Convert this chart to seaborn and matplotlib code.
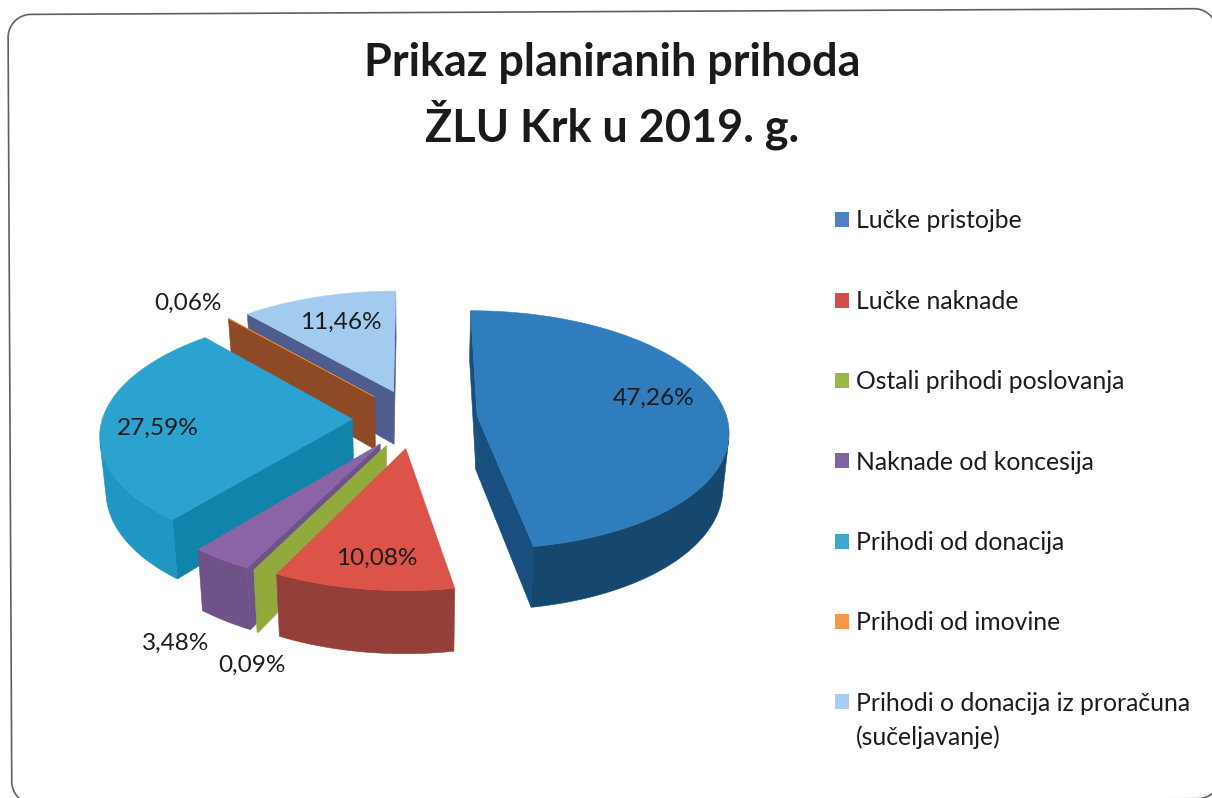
import numpy as np
import matplotlib
matplotlib.use("Agg")
import matplotlib.pyplot as plt
import seaborn as sns
from matplotlib.patches import Patch, Polygon

categories = ["Lučke pristojbe", "Lučke naknade", "Ostali prihodi poslovanja",
              "Naknade od koncesija", "Prihodi od donacija", "Prihodi od imovine",
              "Prihodi o donacija iz proračuna\n(sučeljavanje)"]
shares = [47.26, 10.08, 0.09, 3.48, 27.59, 0.06, 11.46]
title_lines = ["Prikaz planiranih prihoda", "ŽLU Krk u 2019. g."]

legend_colors = ["#4f81c4", "#d2504a", "#9bb84a", "#8064a2", "#3fa7c8", "#f79646", "#a8cdf5"]
top_colors = ["#2f7dbd", "#dc5449", "#95ae3f", "#8a64a6", "#2ba2cf", "#e58a2e", "#a3cbf0"]
side_colors = ["#174f7e", "#953c38", "#92aa3c", "#6f5288", "#1283ab", "#8e4a26", "#4e5d8e"]
wall_colors = ["#16486f", "#953f3b", "#92aa3c", "#6f5288", "#2096c2", "#8e4a26", "#4e5d8e"]

label_xy = [(654, 398), (377, 558), (252, 665), (176, 643), (158, 428), (188, 303), (341, 322)]

# drawing order: far slices first
order = [6, 5, 4, 0, 3, 2, 1]

X0, Y0 = 415, 418.5    # pie centre in pixels
A, B = 250, 118        # horizontal / vertical radius
K = 0.116              # perspective strength
DEPTH = 54             # extrusion
EXPLODE = 0.25
TAPER = 0.02

FONT = "Lato"
TEXT = "#1c1c1c"

sns.set_theme(style="white")
plt.rcParams["font.family"] = [FONT, "DejaVu Sans"]

fig = plt.figure(figsize=(12.12, 7.98), dpi=100, facecolor="white")
ax = fig.add_axes([0, 0, 1, 1])

# the pie gives the angle and explosion offset of every slice
wedges, _ = ax.pie(shares, startangle=90, counterclock=False,
                   explode=[EXPLODE] * len(shares), radius=1)
geom = [(w.center, w.theta1, w.theta2) for w in wedges]
for w in wedges:
    w.remove()

ax.set_aspect("auto")
ax.set_xlim(0, 1212)
ax.set_ylim(798, 0)
ax.axis("off")


def project(u, v, z=0.0):
    w = 1 + K * v
    sx = (A * u / w) * (1 - TAPER * z)
    sy = -B * v / w + DEPTH * z / w
    return X0 + sx, Y0 + sy


def area(xs, ys):
    return 0.5 * np.sum(xs * np.roll(ys, -1) - np.roll(xs, -1) * ys)


def wall(ax, us, vs, color, zorder):
    """Extrude a run of ground points; only the runs facing the viewer are drawn."""
    us, vs = np.asarray(us, float), np.asarray(vs, float)
    tx, ty = project(us, vs, 0)
    bx, by = project(us, vs, 1)
    visible = [area(np.array([tx[j], tx[j + 1], bx[j + 1], bx[j]]),
                    np.array([ty[j], ty[j + 1], by[j + 1], by[j]])) > 0
               for j in range(len(us) - 1)]
    j = 0
    while j < len(visible):
        if not visible[j]:
            j += 1
            continue
        k = j
        while k + 1 < len(visible) and visible[k + 1]:
            k += 1
        xs = np.r_[tx[j:k + 2], bx[j:k + 2][::-1]]
        ys = np.r_[ty[j:k + 2], by[j:k + 2][::-1]]
        ax.add_patch(Polygon(np.c_[xs, ys], closed=True, facecolor=color,
                             edgecolor=color, lw=0.4, zorder=zorder))
        j = k + 1


for rank, i in enumerate(order):
    (cx, cy), t1, t2 = geom[i]
    base = 2 + rank
    th = np.radians(np.linspace(t1, t2, max(int((t2 - t1) * 2), 2)))
    us = cx + np.cos(th)
    vs = cy + np.sin(th)
    # straight side faces (t1 side and t2 side)
    wall(ax, [cx, us[0]], [cy, vs[0]], side_colors[i], base)
    wall(ax, [us[-1], cx], [vs[-1], cy], side_colors[i], base)
    # curved outer wall
    wall(ax, us, vs, wall_colors[i], base + 0.2)
    # top face
    px, py = project(np.r_[cx, us], np.r_[cy, vs], 0)
    ax.add_patch(Polygon(np.c_[px, py], closed=True, facecolor=top_colors[i],
                         edgecolor=top_colors[i], lw=0.4, zorder=base + 0.5))


def rounded_frame(x, y, w, h, r, deg):
    """Outline of a rounded rectangle, turned by the scan's small rotation."""
    t = np.radians(np.arange(0, 91, 5))
    corners = [(x + w - r, y + r, -np.pi / 2), (x + w - r, y + h - r, 0),
               (x + r, y + h - r, np.pi / 2), (x + r, y + r, np.pi)]
    pts = np.vstack([np.c_[cx + r * np.cos(a + t), cy + r * np.sin(a + t)]
                     for cx, cy, a in corners])
    a = np.radians(deg)
    dx, dy = pts[:, 0] - x, pts[:, 1] - y
    return np.c_[x + dx * np.cos(a) - dy * np.sin(a), y + dx * np.sin(a) + dy * np.cos(a)]


ax.add_patch(Polygon(rounded_frame(8, 14.5, 1209, 790, 23, -0.28), closed=True,
                     facecolor="none", edgecolor="#5f5f5f", lw=1.2, zorder=1))

for line, y in zip(title_lines, [63, 125]):
    ax.text(612, y, line, ha="center", va="center", fontsize=32.4,
            fontweight="bold", color="#1a1a1a", zorder=20)

for v, (x, y) in zip(shares, label_xy):
    ax.text(x, y, f"{v:.2f}".replace(".", ",") + "%", ha="center", va="center",
            fontsize=17.6, color=TEXT, zorder=20)

# the legend holds the first line of each name; a wrapped remainder follows below it
handles = [Patch(facecolor=c, edgecolor="none", label=l.split("\n")[0])
           for c, l in zip(legend_colors, categories)]
leg = ax.legend(handles=handles, loc="upper left", bbox_to_anchor=(835, 209.5),
                bbox_transform=ax.transData, frameon=False, fontsize=17.8,
                labelspacing=2.32, handlelength=0.567, handleheight=0.567,
                handletextpad=0.28, borderpad=0, borderaxespad=0, labelcolor="#1c1c1c")
leg.set_zorder(20)
ax.text(856, 737, categories[-1].split("\n")[1], ha="left", va="center",
        fontsize=17.8, color="#1c1c1c", zorder=20)

fig.savefig("out.png", dpi=100, facecolor="white")
